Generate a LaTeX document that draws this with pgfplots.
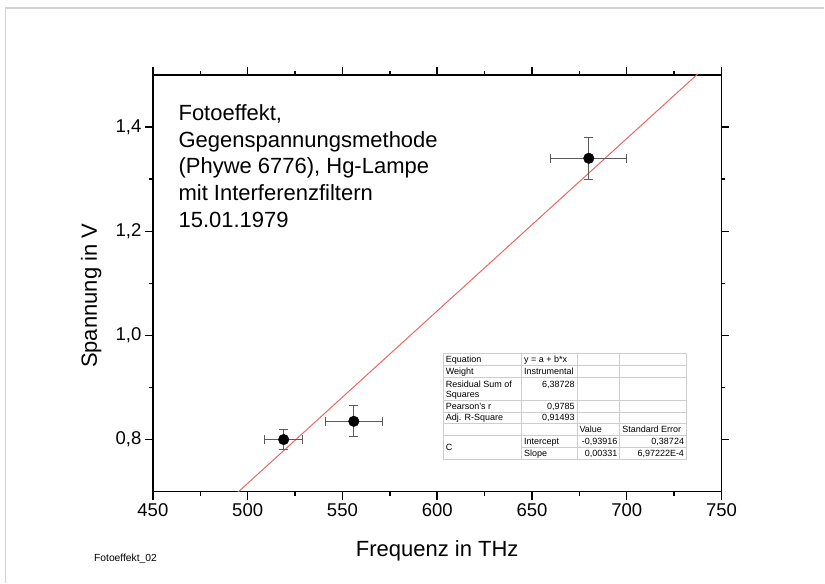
\documentclass[border=0pt]{standalone}
\usepackage{pgfplots}
\pgfplotsset{compat=1.18}
\usepackage{fontspec}
\setmainfont{Liberation Sans}
\definecolor{fitred}{RGB}{232,104,100}
\definecolor{errgray}{RGB}{90,90,90}
\definecolor{cellgray}{RGB}{205,205,205}
\definecolor{pagegray}{RGB}{210,210,210}

\begin{document}
\begin{tikzpicture}[x=1pt,y=1pt]
\fill[white] (0,0) rectangle (825,583);
% faint page frame (top and left edge)
\draw[pagegray, line width=1.2pt] (5.5,0) -- (5.5,575) -- (825,575);

\begin{axis}[
  at={(153pt,91pt)}, anchor=south west,
  scale only axis, width=569pt, height=417pt,
  xmin=450, xmax=750, ymin=0.7, ymax=1.5,
  xtick={450,500,...,750}, ytick={0.8,1.0,1.2,1.4},
  minor x tick num=1, minor y tick num=1,
  tick align=outside,
  major tick length=8pt, minor tick length=4pt,
  axis line style={line width=1.4pt},
  every tick/.style={black, line width=1.4pt},
  /pgf/number format/assume math mode=true,
  yticklabel style={/pgf/number format/.cd, use comma, fixed, fixed zerofill, precision=1},
  tick label style={font=\fontsize{18.5}{20}\selectfont},
  label style={font=\fontsize{22}{24}\selectfont},
  xlabel={Frequenz in THz},
  ylabel={Spannung in V},
  xlabel style={at={(axis description cs:0.5,-0.155)}, anchor=base},
  ylabel style={at={(axis description cs:-0.0984,0.47)}, anchor=base},
]

% linear fit y = -0.93916 + 0.00331 x
\addplot[fitred, line width=1pt] coordinates {(450,0.55034) (750,1.54334)};

\addplot[only marks, mark=*, mark size=5.3pt, black,
  error bars/.cd, x dir=both, x explicit, y dir=both, y explicit,
  error bar style={errgray, line width=1pt},
  error mark options={errgray, line width=1pt, mark size=4.5pt, rotate=90}]
  coordinates {
  (519,0.800) +- (10,0.02)
  (556,0.835) +- (15,0.03)
  (680,1.340) +- (20,0.04)
};
\end{axis}

\begin{scope}[shift={(0,583)}, yscale=-1,
  tc/.style={inner sep=0pt, font=\fontsize{9}{10.5}\selectfont}]
% annotation
\node[anchor=north west, inner sep=0pt, align=left,
  font=\fontsize{22}{26.7}\selectfont] at (178.5,104.3)
  {Fotoeffekt,\\Gegenspannungsmethode\\(Phywe 6776), Hg-Lampe\\mit Interferenzfiltern\\15.01.1979};

% fit table
\fill[white] (443.3,353.3) rectangle (686.7,460);
\foreach \yy in {353.3,366,377.7,401,412.7,424,436,460}
  \draw[cellgray, line width=0.7pt] (443.3,\yy) -- (686.7,\yy);
\draw[cellgray, line width=0.7pt] (521.7,447.7) -- (686.7,447.7);
\foreach \xx in {443.3,521.7,577.3,620,686.7}
  \draw[cellgray, line width=0.7pt] (\xx,353.3) -- (\xx,460);

\node[tc, anchor=base west] at (446,363) {Equation};
\node[tc, anchor=base west] at (524.2,363) {y = a + b*x};
\node[tc, anchor=base west] at (446,374.7) {Weight};
\node[tc, anchor=base west] at (524.2,374.7) {Instrumental};
\node[tc, anchor=base west] at (446,387.3) {Residual Sum of};
\node[tc, anchor=base west] at (446,398) {Squares};
\node[tc, anchor=base east] at (575.3,387.3) {6,38728};
\node[tc, anchor=base west] at (446,409.7) {Pearson's r};
\node[tc, anchor=base east] at (575.3,409.7) {0,9785};
\node[tc, anchor=base west] at (446,421) {Adj. R-Square};
\node[tc, anchor=base east] at (575.3,421) {0,91493};
\node[tc, anchor=base west] at (579.8,433) {Value};
\node[tc, anchor=base west] at (622.5,433) {Standard Error};
\node[tc, anchor=base west] at (446,451) {C};
\node[tc, anchor=base west] at (524.2,444.7) {Intercept};
\node[tc, anchor=base east] at (618,444.7) {-0,93916};
\node[tc, anchor=base east] at (684.7,444.7) {0,38724};
\node[tc, anchor=base west] at (524.2,457) {Slope};
\node[tc, anchor=base east] at (618,457) {0,00331};
\node[tc, anchor=base east] at (684.7,457) {6,97222E-4};

% file name
\node[anchor=base west, inner sep=0pt, font=\fontsize{10.3}{12}\selectfont] at (94,562.3) {Fotoeffekt\_02};
\end{scope}
\end{tikzpicture}
\end{document}
